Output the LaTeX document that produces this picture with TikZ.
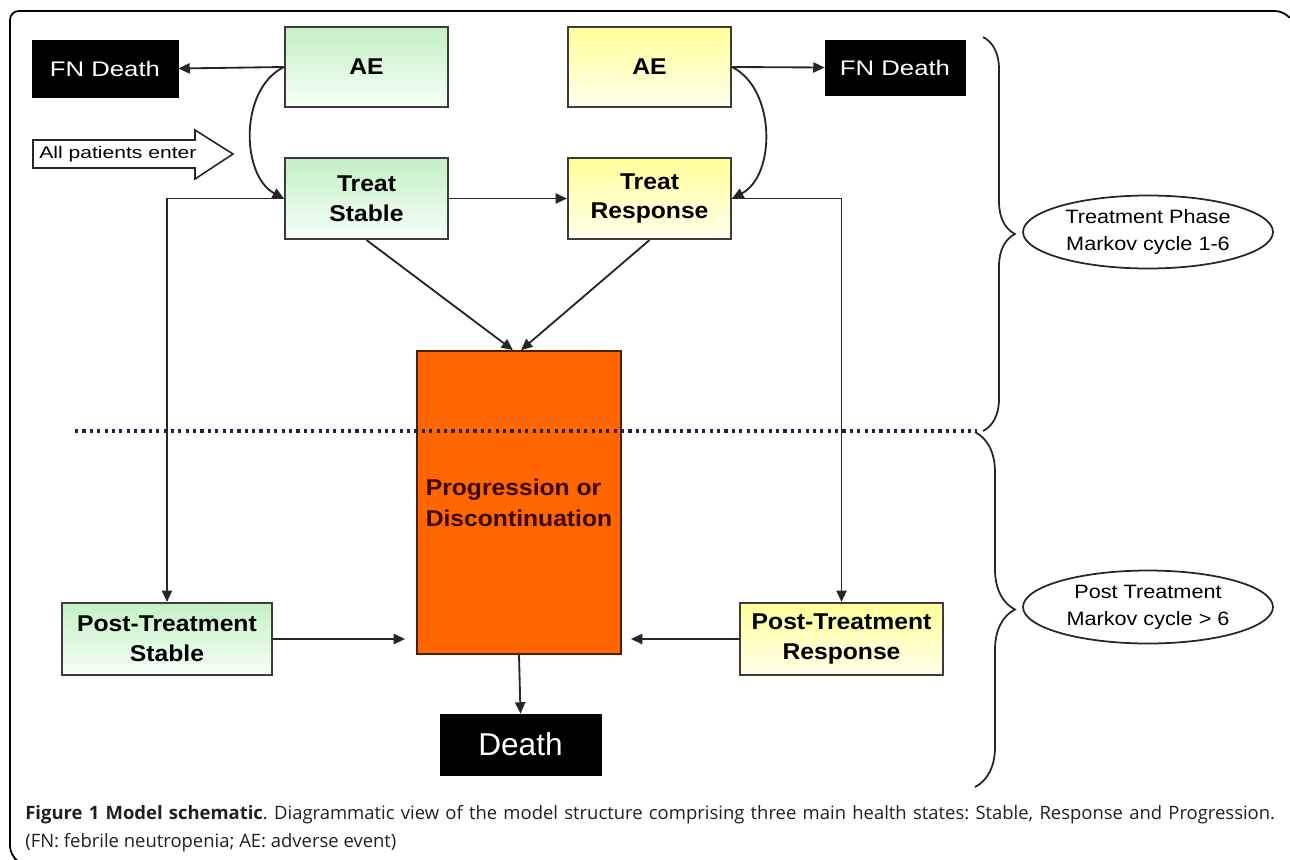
\documentclass[tikz,border=0pt]{standalone}
\usepackage{fontspec}
\setmainfont{Liberation Sans}
\newfontfamily\boldlab[FakeStretch=1.08]{Liberation Sans}
\newfontfamily\fnfont[FakeStretch=1.22]{Liberation Sans}
\newfontfamily\entfont[FakeStretch=1.25]{Liberation Sans}
\newfontfamily\elfont[FakeStretch=1.12]{Liberation Sans}
\newfontfamily\capfont{Open Sans}
\usetikzlibrary{arrows.meta,calc,decorations.pathreplacing,shapes.geometric}
\definecolor{edgec}{HTML}{3C3C3C}
\definecolor{gtop}{HTML}{C4F0C4}
\definecolor{gbot}{HTML}{F7FFF7}
\definecolor{ytop}{HTML}{FFFF99}
\definecolor{ybot}{HTML}{FFFFEC}
\definecolor{orng}{HTML}{FF6600}
\definecolor{progtxt}{HTML}{3A0505}
\definecolor{dotc}{HTML}{1C2640}
\definecolor{captxt}{HTML}{231F20}
\tikzset{
  x=0.02cm, y=-0.02cm,
  state/.style={draw=edgec, line width=1.2pt, align=center, inner sep=0pt,
    font=\boldlab\bfseries\fontsize{13}{17}\selectfont},
  gbox/.style={state, top color=gtop, bottom color=gbot},
  ybox/.style={state, top color=ytop, bottom color=ybot},
  blackbox/.style={fill=black, draw=black, text=white, inner sep=0pt},
  conn/.style={draw=black!85, line width=1.05pt, -{Triangle[length=6.5pt,width=5.8pt]}},
  phase/.style={draw=black!85, ellipse, line width=1pt, inner sep=0pt, align=center,
    minimum width=5cm, minimum height=1.46cm, font=\elfont\fontsize{11}{15.4}\selectfont},
  bracec/.style={draw=black!85, line width=1pt, decorate},
}
\begin{document}
\begin{tikzpicture}
\useasboundingbox (0,0) rectangle (1290,859);
% frame
\draw[line width=1pt, rounded corners=5pt] (1289,17) -- (1284,11) -- (10,11) -- (10,855) -- (14,858);

% nodes
\node[blackbox, minimum width=2.92cm, minimum height=1.14cm, font=\fnfont\fontsize{12}{14}\selectfont] (fnL) at (105,68.5) {FN Death};
\node[gbox, minimum width=3.26cm, minimum height=1.6cm] (aeL) at (366.5,67) {AE};
\node[ybox, minimum width=3.26cm, minimum height=1.6cm] (aeR) at (649.5,67) {AE};
\node[blackbox, minimum width=2.8cm, minimum height=1.1cm, font=\fnfont\fontsize{12}{14}\selectfont] (fnR) at (895,67.5) {FN Death};
\node[gbox, minimum width=3.26cm, minimum height=1.62cm] (ts) at (366.5,198.5) {Treat\\Stable};
\node[ybox, minimum width=3.26cm, minimum height=1.62cm] (tr) at (649.5,198.5) {Treat\\Response};
\node[draw=black!70!orng, fill=orng, line width=1pt, minimum width=4.08cm, minimum height=6.06cm, inner sep=0pt, align=left, text=progtxt, font=\boldlab\bfseries\fontsize{13}{17.5}\selectfont] (prog) at (519,502.5) {Progression or\\Discontinuation};
\node[gbox, minimum width=4.2cm, minimum height=1.44cm] (pts) at (167,639) {Post-Treatment\\Stable};
\node[ybox, minimum width=4.06cm, minimum height=1.44cm] (ptr) at (841.5,639) {Post-Treatment\\Response};
\node[blackbox, minimum width=3.22cm, minimum height=1.22cm, font=\fontsize{18}{20}\selectfont] (death) at (520.5,744.5) {Death};
\node[phase] (ph1) at (1148,232) {Treatment Phase\\Markov cycle 1-6};
\node[phase] (ph2) at (1148,607) {Post Treatment\\Markov cycle \textgreater{} 6};

% entry arrow
\draw[line width=0.9pt, draw=black!85, fill=white] (33,140) -- (195,140) -- (195,130) -- (233,154) -- (195,179) -- (195,168) -- (33,168) -- cycle;
\node[anchor=west, inner sep=0pt, font=\entfont\fontsize{9.6}{11}\selectfont] (enter) at (39,154) {All patients enter};

% connectors
\draw[conn] (aeL.west) -- (fnL.east);
\draw[conn] (aeR.east) -- (fnR.west);
\draw[conn] (aeL.west) .. controls +(-45,22) and +(-43,-23) .. (ts.west);
\draw[conn] (aeR.east) .. controls +(44,22) and +(44,-23) .. (tr.east);
\draw[conn] (ts.east) -- (tr.west);
\draw[conn] (ts.west) -| (pts.north);
\draw[conn] (tr.east) -| (ptr.north);
\draw[conn] (ts.south) -- ($(prog.north)+(-6,0)$);
\draw[conn] (tr.south) -- ($(prog.north)+(2,0)$);
\draw[conn, shorten >=0.22cm] (pts.east) -- (pts.east -| prog.west);
\draw[conn, shorten >=0.18cm] (ptr.west) -- (ptr.west -| prog.east);
\draw[conn] (prog.south) -- (death.north);

% phase divider
\draw[dotc, line width=1.8pt, dash pattern=on 1.8pt off 2.4pt] (75,431) -- (977,431);

% braces
\draw[bracec, decoration={brace, amplitude=0.64cm}] (983,37) -- (983,431);
\draw[bracec, decoration={brace, amplitude=0.8cm}] (975,432) -- (975,787);

% caption
\node[anchor=base west, inner sep=0pt, text=captxt, font=\capfont\fontsize{10.5}{14}\selectfont\frenchspacing] (cap1) at (25,819) {\hbox to 25cm{\textbf{Figure 1 Model schematic}. Diagrammatic view of the model structure comprising three main health states: Stable, Response and Progression.}};
\node[anchor=base west, inner sep=0pt, text=captxt, font=\capfont\fontsize{10.5}{14}\selectfont\frenchspacing] (cap2) at (25,847) {(FN: febrile neutropenia; AE: adverse event)};
\end{tikzpicture}
\end{document}
